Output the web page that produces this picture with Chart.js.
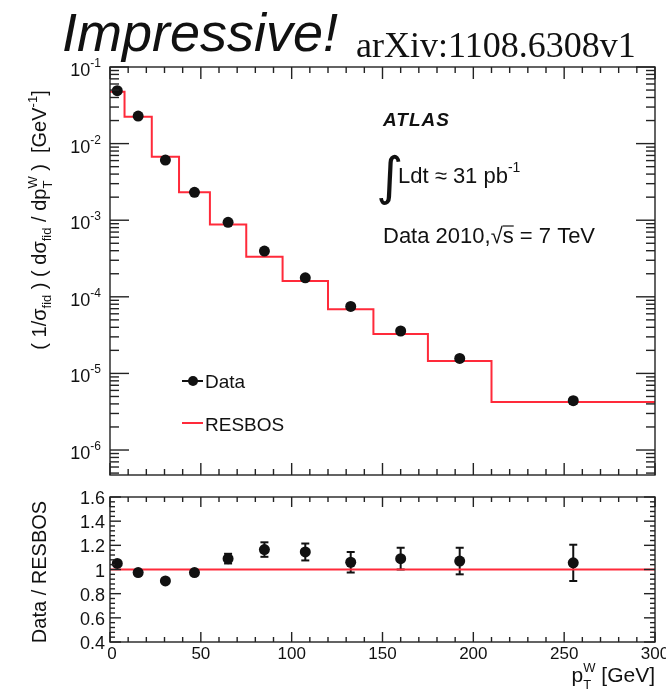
<!DOCTYPE html>
<html>
<head>
<meta charset="utf-8">
<script src="https://cdn.jsdelivr.net/npm/chart.js@4"></script>
<style>
  body { margin: 0; background: #fff; width: 666px; height: 698px; position: relative; overflow: hidden; }
  canvas { position: absolute; left: 0; }
  #cvMain { top: 0; }
  #cvRatio { top: 490px; }
</style>
</head>
<body>
<canvas id="cvMain" width="666" height="490"></canvas>
<canvas id="cvRatio" width="666" height="208"></canvas>
<script>
// W pT spectrum, bins in GeV
var binEdges = [0, 8, 23, 38, 55, 75, 95, 120, 145, 175, 210, 300];
var resbos   = [0.0476, 0.0225, 0.00674, 0.00231, 8.8e-4, 3.34e-4, 1.61e-4, 6.9e-5, 3.27e-5, 1.45e-5, 4.24e-6];

// measured points
var dataX   = [4, 15.5, 30.5, 46.5, 65, 85, 107.5, 132.5, 160, 192.5, 255];
var dataY   = [0.049, 0.0229, 0.0061, 0.00231, 9.4e-4, 3.96e-4, 1.77e-4, 7.5e-5, 3.58e-5, 1.57e-5, 4.4e-6];
var dataErr = [0, 0, 0, 0, 0, 0, 0, 0, 0, 0, 0.4e-6];

// Data / RESBOS
var ratioY   = [1.05, 0.975, 0.905, 0.975, 1.09, 1.165, 1.145, 1.06, 1.09, 1.07, 1.055];
var ratioErr = [0.01, 0.01, 0.017, 0.01, 0.04, 0.06, 0.07, 0.085, 0.09, 0.11, 0.15];

// tick labels
var logExp      = [-1, -2, -3, -4, -5, -6];
var ratioLabels = ['1.6', '1.4', '1.2', '1', '0.8', '0.6', '0.4'];
var xLabels     = ['0', '50', '100', '150', '200', '250', '300'];

var F = '"Liberation Sans", Arial, sans-serif';
var INK = '#111';
var RED = '#ff2a3a';

function line(ctx, x1, y1, x2, y2) {
  ctx.beginPath();
  ctx.moveTo(x1, y1);
  ctx.lineTo(x2, y2);
  ctx.stroke();
}

// text made of pieces (sub/superscripts); adv:0 keeps the pen in place
function rich(ctx, parts, x, y, align) {
  var w = 0;
  parts.forEach(function (p) {
    ctx.font = p.font;
    p.w = ctx.measureText(p.t).width;
    if (p.adv !== 0) w += p.w;
  });
  var cx = x;
  if (align == 'center') cx = x - w / 2;
  if (align == 'right') cx = x - w;
  parts.forEach(function (p) {
    ctx.font = p.font;
    ctx.fillText(p.t, cx, y + (p.dy || 0));
    if (p.over) {
      ctx.lineWidth = 1.3;
      line(ctx, cx, y - p.over, cx + p.w, y - p.over);
    }
    if (p.adv !== 0) cx += p.w;
  });
}

function errBars(chart, xs, ys, errs, cap) {
  var ctx = chart.ctx, sx = chart.scales.x, sy = chart.scales.y;
  ctx.save();
  ctx.strokeStyle = INK;
  ctx.lineWidth = 2;
  for (var i = 0; i < xs.length; i++) {
    if (!errs[i]) continue;
    var px = sx.getPixelForValue(xs[i]);
    var y1 = sy.getPixelForValue(ys[i] + errs[i]);
    var y2 = sy.getPixelForValue(ys[i] - errs[i]);
    line(ctx, px, y1, px, y2);
    line(ctx, px - cap, y1, px + cap, y1);
    line(ctx, px - cap, y2, px + cap, y2);
  }
  ctx.restore();
}

function xTicks(ctx, sx, a, major, minor) {
  for (var v = 0; v <= 300; v += 10) {
    var len = v % 50 == 0 ? major : minor;
    var px = sx.getPixelForValue(v);
    line(ctx, px, a.bottom, px, a.bottom - len);
    line(ctx, px, a.top, px, a.top + len);
  }
}

var mainDecor = {
  id: 'mainDecor',
  beforeDatasetsDraw: function (chart) {
    errBars(chart, dataX, dataY, dataErr, 4);
  },
  afterDraw: function (chart) {
    var ctx = chart.ctx, a = chart.chartArea;
    var sx = chart.scales.x, sy = chart.scales.y;
    ctx.save();
    ctx.fillStyle = INK;
    ctx.textBaseline = 'alphabetic';

    // heading
    ctx.font = 'italic 54px ' + F;
    ctx.fillText('Impressive!', 62, 51);
    ctx.font = '36px "Liberation Serif", serif';
    ctx.fillText('arXiv:1108.6308v1', 356, 57);

    // frame and ticks
    ctx.strokeStyle = '#222';
    ctx.lineWidth = 1.4;
    ctx.strokeRect(a.left, a.top, a.right - a.left, a.bottom - a.top);
    xTicks(ctx, sx, a, 12, 6);
    for (var d = -7; d <= -1; d++) {
      for (var k = 1; k <= 9; k++) {
        var v = k * Math.pow(10, d);
        if (v < sy.min || v > sy.max * 1.0001) continue;
        var py = sy.getPixelForValue(v);
        var len = k == 1 ? 19 : 9;
        line(ctx, a.left, py, a.left + len, py);
        line(ctx, a.right, py, a.right - len, py);
      }
    }

    // y tick labels 10^n
    logExp.forEach(function (e) {
      var py = sy.getPixelForValue(Math.pow(10, e));
      rich(ctx, [
        { t: '10', font: '18px ' + F },
        { t: String(e), font: '12px ' + F, dy: -9 }
      ], 101, py + 9, 'right');
    });

    // y title
    ctx.save();
    ctx.translate(46, 220);
    ctx.rotate(-Math.PI / 2);
    var big = '20px ' + F, sm = '13px ' + F;
    rich(ctx, [
      { t: '( 1/\u03c3', font: big },
      { t: 'fid', font: sm, dy: 5 },
      { t: ' ) ( d\u03c3', font: big },
      { t: 'fid', font: sm, dy: 5 },
      { t: ' / dp', font: big },
      { t: 'T', font: sm, dy: 6, adv: 0 },
      { t: 'W', font: sm, dy: -9 },
      { t: ' )  [GeV', font: big },
      { t: '-1', font: sm, dy: -9 },
      { t: ']', font: big }
    ], 0, 0, 'center');
    ctx.restore();

    // experiment labels
    ctx.save();
    ctx.font = 'italic bold 19px ' + F;
    ctx.letterSpacing = '1px';
    ctx.fillText('ATLAS', 383, 126);
    ctx.restore();
    ctx.font = '52px "DejaVu Sans", ' + F;
    ctx.fillText('\u222b', 376, 194);
    rich(ctx, [
      { t: 'Ldt \u2248 31 pb', font: '22px ' + F },
      { t: '-1', font: '14px ' + F, dy: -11 }
    ], 398, 183, 'left');
    rich(ctx, [
      { t: 'Data 2010,', font: '22px ' + F },
      { t: '\u221a', font: '22px ' + F },
      { t: 's', font: '22px ' + F, over: 17 },
      { t: ' = 7 TeV', font: '22px ' + F }
    ], 383, 243, 'left');

    // legend
    ctx.strokeStyle = INK;
    ctx.lineWidth = 2;
    line(ctx, 182, 381, 203, 381);
    ctx.beginPath();
    ctx.arc(193, 381, 5, 0, 2 * Math.PI);
    ctx.fill();
    ctx.font = '19px ' + F;
    ctx.fillText('Data', 205, 388);
    ctx.strokeStyle = RED;
    line(ctx, 182, 423, 203, 423);
    ctx.fillText('RESBOS', 205, 431);
    ctx.restore();
  }
};

var ratioDecor = {
  id: 'ratioDecor',
  beforeDatasetsDraw: function (chart) {
    errBars(chart, dataX, ratioY, ratioErr, 4);
  },
  afterDraw: function (chart) {
    var ctx = chart.ctx, a = chart.chartArea;
    var sx = chart.scales.x, sy = chart.scales.y;
    ctx.save();
    ctx.fillStyle = INK;
    ctx.strokeStyle = '#222';
    ctx.lineWidth = 1.4;
    ctx.strokeRect(a.left, a.top, a.right - a.left, a.bottom - a.top);
    xTicks(ctx, sx, a, 10, 5);
    for (var i = 0; i <= 30; i++) {
      var v = 0.4 + i * 0.04;
      var py = sy.getPixelForValue(v);
      var len = i % 5 == 0 ? 11 : 5;
      line(ctx, a.left, py, a.left + len, py);
      line(ctx, a.right, py, a.right - len, py);
    }

    ctx.font = '18px ' + F;
    ctx.textAlign = 'right';
    ratioLabels.forEach(function (s) {
      ctx.fillText(s, 105, sy.getPixelForValue(parseFloat(s)) + 7);
    });
    ctx.font = '17px ' + F;
    ctx.textAlign = 'center';
    xLabels.forEach(function (s) {
      var px = sx.getPixelForValue(parseFloat(s));
      ctx.fillText(s, px + (s == '0' ? 2 : 0), a.bottom + 17);
    });
    ctx.textAlign = 'left';

    // axis titles
    rich(ctx, [
      { t: 'p', font: '21px ' + F },
      { t: 'T', font: '13px ' + F, dy: 7, adv: 0 },
      { t: 'W', font: '13px ' + F, dy: -10 },
      { t: ' [GeV]', font: '21px ' + F }
    ], 655, 192, 'right');

    ctx.save();
    ctx.translate(46, 82);
    ctx.rotate(-Math.PI / 2);
    ctx.font = '20px ' + F;
    ctx.textAlign = 'center';
    ctx.fillText('Data / RESBOS', 0, 0);
    ctx.restore();
    ctx.restore();
  }
};

// step histogram: each value starts at its left bin edge, last one closes at 300
var stepMain = binEdges.map(function (e, i) {
  return { x: e, y: resbos[Math.min(i, resbos.length - 1)] };
});
var stepRatio = binEdges.map(function (e) { return { x: e, y: 1 }; });
var ptsMain = dataX.map(function (x, i) { return { x: x, y: dataY[i] }; });
var ptsRatio = dataX.map(function (x, i) { return { x: x, y: ratioY[i] }; });

function hiddenAxis(extra) {
  var base = {
    ticks: { display: false },
    grid: { display: false },
    border: { display: false }
  };
  for (var k in extra) base[k] = extra[k];
  return base;
}

function datasets(pts, step) {
  return [
    {
      type: 'scatter', data: pts,
      pointRadius: 5.5, pointBackgroundColor: INK, pointBorderWidth: 0
    },
    {
      type: 'line', data: step, stepped: true,
      borderColor: RED, borderWidth: 2, pointRadius: 0, fill: false
    }
  ];
}

var common = {
  responsive: false,
  animation: false,
  plugins: { legend: { display: false }, tooltip: { enabled: false } }
};

new Chart(document.getElementById('cvMain'), {
  type: 'scatter',
  data: { datasets: datasets(ptsMain, stepMain) },
  options: Object.assign({}, common, {
    layout: { padding: { left: 0, right: 11, top: 67, bottom: 15 } },
    scales: {
      x: hiddenAxis({ type: 'linear', min: 0, max: 300, afterFit: function (s) { s.height = 0; } }),
      y: hiddenAxis({ type: 'logarithmic', min: 4.72e-7, max: 0.1, afterFit: function (s) { s.width = 110; } })
    }
  }),
  plugins: [mainDecor]
});

new Chart(document.getElementById('cvRatio'), {
  type: 'scatter',
  data: { datasets: datasets(ptsRatio, stepRatio) },
  options: Object.assign({}, common, {
    layout: { padding: { left: 0, right: 11, top: 7, bottom: 56 } },
    scales: {
      x: hiddenAxis({ type: 'linear', min: 0, max: 300, afterFit: function (s) { s.height = 0; } }),
      y: hiddenAxis({ type: 'linear', min: 0.4, max: 1.6, afterFit: function (s) { s.width = 110; } })
    }
  }),
  plugins: [ratioDecor]
});
</script>
</body>
</html>
